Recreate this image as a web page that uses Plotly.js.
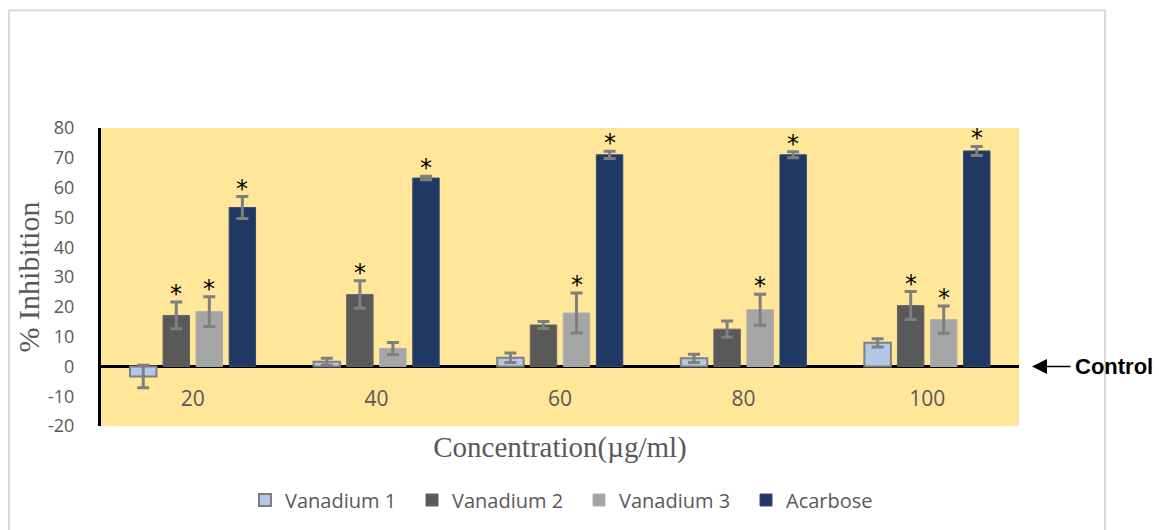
<!DOCTYPE html>
<html>
<head>
<meta charset="utf-8">
<script src="https://cdn.plot.ly/plotly-3.0.1.min.js"></script>
<style>
  html, body { margin: 0; padding: 0; background: #ffffff; }
  #chart { width: 1159px; height: 530px; }
</style>
</head>
<body>
<div id="chart"></div>
<script>
// ---- data ----
const categories = ['20', '40', '60', '80', '100'];
const seriesNames = ['Vanadium 1', 'Vanadium 2', 'Vanadium 3', 'Acarbose'];

const vanadium1 = [-3.4, 1.6, 2.9, 2.7, 7.9];
const vanadium1Err = [3.8, 1.1, 1.6, 1.4, 1.4];
const vanadium2 = [17.1, 24.1, 13.9, 12.5, 20.4];
const vanadium2Err = [4.5, 4.6, 1.2, 2.7, 4.7];
const vanadium3 = [18.4, 6.0, 17.9, 19.0, 15.7];
const vanadium3Err = [5.0, 2.0, 6.7, 5.2, 4.6];
const acarbose = [53.3, 63.2, 71.0, 71.0, 72.3];
const acarboseErr = [3.7, 0.6, 1.2, 1.0, 1.5];

// significance markers (*)
const vanadium1Sig = [false, false, false, false, false];
const vanadium2Sig = [true, true, false, false, true];
const vanadium3Sig = [true, false, true, true, true];
const acarboseSig = [true, true, true, true, true];

const yTickVals = [-20, -10, 0, 10, 20, 30, 40, 50, 60, 70, 80];
const yTickText = ['-20', '-10', '0', '10', '20', '30', '40', '50', '60', '70', '80'];

// ---- styling ----
const W = 1159, H = 530;
const M = { l: 101, r: 140, t: 128, b: 103 };
const bargap = 0.28, bargroupgap = 0.2;
const fillColors = ['#B4C7E7', '#595959', '#A5A5A5', '#203864'];
const lineColors = ['#7F7F7F', '#656565', '#AEAEAE', '#34497A'];
const lineWidths = [2, 1, 1, 1];
const textGray = '#595959';

const values = [vanadium1, vanadium2, vanadium3, acarbose];
const errors = [vanadium1Err, vanadium2Err, vanadium3Err, acarboseErr];
const sigs = [vanadium1Sig, vanadium2Sig, vanadium3Sig, acarboseSig];

const traces = seriesNames.map((name, i) => ({
  type: 'bar',
  name: name,
  x: categories,
  y: values[i],
  marker: { color: fillColors[i], line: { color: lineColors[i], width: lineWidths[i] } },
  error_y: { type: 'data', array: errors[i], visible: true, color: '#7F7F7F', thickness: 3, width: 6 },
  hoverinfo: 'x+y+name'
}));

// star annotations placed over each significant bar, from the data
const plotW = W - M.l - M.r;
const plotH = H - M.t - M.b;
const catW = plotW / categories.length;
const slot = catW * (1 - bargap) / seriesNames.length;
const annotations = [];
sigs.forEach((sig, i) => {
  sig.forEach((flag, j) => {
    if (!flag) return;
    annotations.push({
      xref: 'x', yref: 'y',
      x: j,
      y: values[i][j] + errors[i][j],
      xshift: (i - (seriesNames.length - 1) / 2) * slot,
      yshift: 8,
      yanchor: 'middle',
      text: '*',
      showarrow: false,
      font: { family: 'DejaVu Sans', size: 24, color: '#000000' }
    });
  });
});

// "Control" label with arrow pointing at the zero line
annotations.push({
  xref: 'paper', yref: 'y',
  x: (1032 - M.l) / plotW,
  y: 0,
  ax: 82, ay: 0,
  text: '<b>Control</b>',
  showarrow: true,
  arrowhead: 2, arrowsize: 2, arrowwidth: 1.5, arrowcolor: '#000000',
  borderpad: 4,
  font: { family: 'Liberation Sans', size: 22, color: '#000000' }
});

const catIndex = categories.map((c, i) => i);

const layout = {
  width: W, height: H,
  margin: M,
  paper_bgcolor: '#ffffff',
  plot_bgcolor: '#FFE699',
  barmode: 'group',
  bargap: bargap,
  bargroupgap: bargroupgap,
  showlegend: true,
  legend: {
    orientation: 'h', x: 0.5 + 19 / plotW, xanchor: 'center', y: -(500 - (H - M.b)) / plotH, yanchor: 'middle',
    font: { family: 'Open Sans', size: 20, color: textGray },
    entrywidth: 122,
    traceorder: 'normal'
  },
  xaxis: {
    type: 'category',
    range: [-0.5, categories.length - 0.5],
    showline: false,
    showgrid: false,
    zeroline: false,
    showticklabels: false,
    ticks: '',
    title: { text: 'Concentration(µg/ml)', standoff: 10,
             font: { family: 'Liberation Serif', size: 29, color: textGray } }
  },
  // second x axis sitting on the zero line, carrying the category labels
  xaxis2: {
    overlaying: 'x',
    anchor: 'free',
    position: 20 / 100,
    side: 'bottom',
    range: [-0.5, categories.length - 0.5],
    tickmode: 'array',
    tickvals: catIndex,
    ticktext: categories,
    showline: false,
    showgrid: false,
    zeroline: false,
    ticks: '',
    tickangle: 0,
    ticklabelstandoff: 18,
    tickfont: { family: 'Open Sans', size: 21, color: textGray }
  },
  yaxis: {
    range: [-20, 80],
    tickmode: 'array',
    tickvals: yTickVals,
    ticktext: yTickText,
    showgrid: false,
    zeroline: true,
    zerolinecolor: '#000000',
    zerolinewidth: 3,
    showline: true,
    linecolor: '#000000',
    linewidth: 3,
    ticks: '',
    ticklabelstandoff: 20,
    tickfont: { family: 'Open Sans', size: 18, color: textGray },
    title: { text: '% Inhibition', standoff: 0,
             font: { family: 'Liberation Serif', size: 30, color: textGray } }
  },
  shapes: [{
    type: 'rect', xref: 'paper', yref: 'paper', layer: 'below',
    x0: (9 - M.l) / plotW, x1: (1105 - M.l) / plotW,
    y0: (H - M.t - 545) / plotH, y1: (H - M.b - 10) / plotH,
    line: { color: '#D9D9D9', width: 2 }, fillcolor: 'rgba(0,0,0,0)'
  }],
  annotations: annotations
};

// invisible helper trace so the label axis is drawn
traces.push({
  type: 'scatter', x: catIndex, y: catIndex.map(() => 0), xaxis: 'x2', yaxis: 'y',
  mode: 'markers', marker: { opacity: 0 }, showlegend: false, hoverinfo: 'skip'
});

Plotly.newPlot('chart', traces, layout, { displayModeBar: false, responsive: false });
</script>
</body>
</html>
